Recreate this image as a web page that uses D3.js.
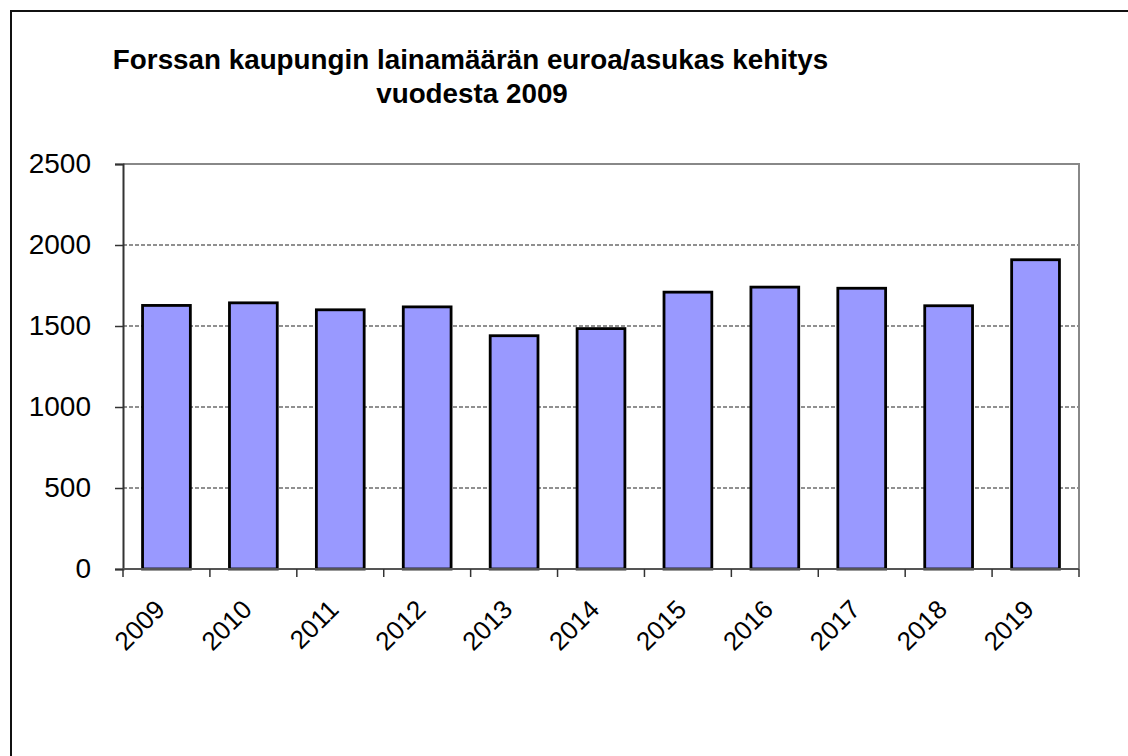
<!DOCTYPE html>
<html>
<head>
<meta charset="utf-8">
<script src="https://cdn.jsdelivr.net/npm/d3@7"></script>
<style>
  body { margin: 0; background: #fff; overflow: hidden; }
  svg { display: block; font-family: "Liberation Sans", Arial, sans-serif; }
</style>
</head>
<body>
<svg width="1128" height="756"></svg>
<script>
var years = ["2009", "2010", "2011", "2012", "2013", "2014", "2015", "2016", "2017", "2018", "2019"];
var loanPerResident = [1627, 1643, 1600, 1618, 1440, 1484, 1709, 1740, 1733, 1625, 1909];
var yTicks = [0, 500, 1000, 1500, 2000, 2500];
var titleLines = ["Forssan kaupungin lainamäärän euroa/asukas kehitys", "vuodesta 2009"];

var svg = d3.select("svg"),
    margin = {top: 164, right: 49, bottom: 187, left: 123},
    width = 1128 - margin.left - margin.right,
    height = 756 - margin.top - margin.bottom;

// outer frame, runs off the right and bottom edge
svg.append("path")
    .attr("d", "M11,760V11H1130")
    .attr("fill", "none")
    .attr("stroke", "#111")
    .attr("stroke-width", 2);

svg.selectAll(".title")
    .data(titleLines)
  .enter().append("text")
    .attr("class", "title")
    .attr("x", function(d, i) { return i ? 472 : 470.5; })
    .attr("y", function(d, i) { return 69 + i * 34; })
    .attr("text-anchor", "middle")
    .attr("font-size", 27.8)
    .attr("font-weight", "bold")
    .text(function(d) { return d; });

var x = d3.scaleBand().domain(years).range([0, width]).paddingInner(0.45).paddingOuter(0.225),
    xCat = d3.scaleBand().domain(years).range([0, width]),
    y = d3.scaleLinear().domain([0, 2500]).range([height, 0]);

var g = svg.append("g")
    .attr("transform", "translate(" + margin.left + "," + margin.top + ")");

// dashed gridlines
g.selectAll(".grid")
    .data(yTicks.filter(function(d) { return d > 0 && d < 2500; }))
  .enter().append("line")
    .attr("x1", 0).attr("x2", width)
    .attr("y1", function(d) { return y(d); })
    .attr("y2", function(d) { return y(d); })
    .attr("stroke", "#222")
    .attr("stroke-width", 1.2)
    .attr("stroke-dasharray", "4,2");

// top and right border of plot area
g.append("path")
    .attr("d", "M0," + y(2500) + "H" + width + "V" + height)
    .attr("fill", "none")
    .attr("stroke", "#888")
    .attr("stroke-width", 2);

g.selectAll(".bar")
    .data(loanPerResident)
  .enter().append("rect")
    .attr("class", "bar")
    .attr("x", function(d, i) { return x(years[i]); })
    .attr("width", x.bandwidth())
    .attr("y", function(d) { return y(d); })
    .attr("height", function(d) { return height - y(d); })
    .attr("fill", "#9999ff")
    .attr("stroke", "#000")
    .attr("stroke-width", 2.8);

// y axis
var yAxisG = g.append("g")
    .call(d3.axisLeft(y).tickValues(yTicks).tickSize(8).tickPadding(24).tickFormat(d3.format("d")));
yAxisG.select(".domain").attr("stroke", "#333").attr("stroke-width", 2);
yAxisG.selectAll(".tick line").attr("stroke", "#333").attr("stroke-width", 1.5);
yAxisG.selectAll(".tick text")
    .attr("font-size", 28)
    .attr("font-family", "Liberation Sans, Arial, sans-serif")
    .attr("fill", "#000");

// x axis, ticks at category boundaries
var xAxisG = g.append("g").attr("transform", "translate(0," + height + ")");
xAxisG.append("line")
    .attr("x1", 0).attr("x2", width)
    .attr("stroke", "#555").attr("stroke-width", 2);
xAxisG.selectAll(".xtick")
    .data(years.concat(["end"]))
  .enter().append("line")
    .attr("x1", function(d, i) { return i * xCat.step(); })
    .attr("x2", function(d, i) { return i * xCat.step(); })
    .attr("y1", 0).attr("y2", 8)
    .attr("stroke", "#333").attr("stroke-width", 1.5);
xAxisG.selectAll(".xlabel")
    .data(years)
  .enter().append("text")
    .attr("transform", function(d) {
      return "translate(" + (xCat(d) + xCat.bandwidth() / 2) + ",42) rotate(-45)";
    })
    .attr("text-anchor", "end")
    .attr("font-size", 26)
    .text(function(d) { return d; });
</script>
</body>
</html>
